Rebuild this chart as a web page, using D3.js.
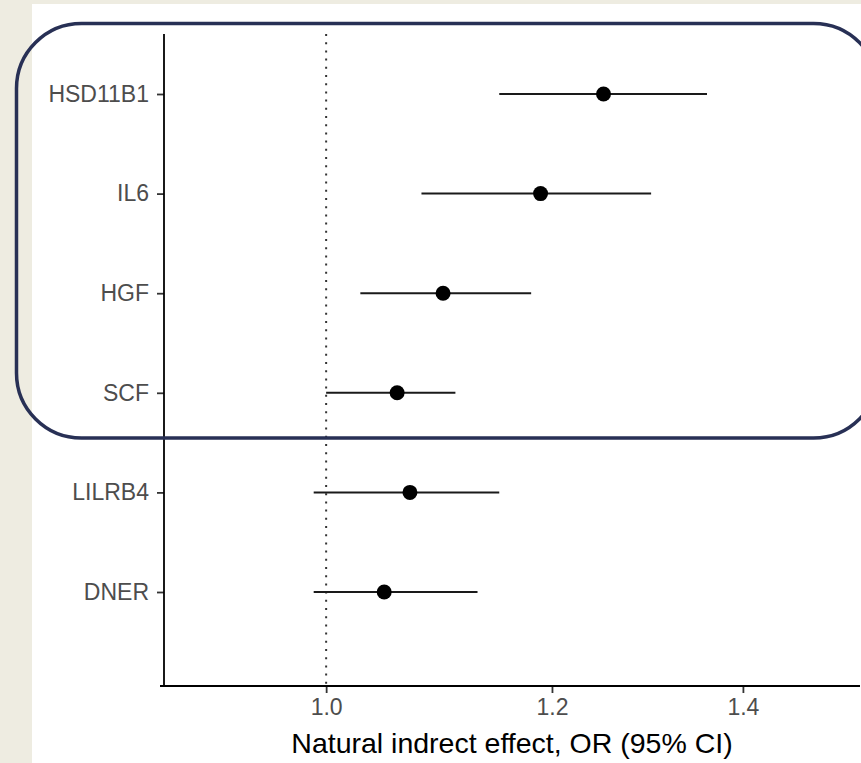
<!DOCTYPE html>
<html>
<head>
<meta charset="utf-8">
<script src="https://cdn.jsdelivr.net/npm/d3@7"></script>
<style>
  body { margin: 0; background: #eeece1; }
  svg { display: block; font-family: "Liberation Sans", Arial, sans-serif; }
</style>
</head>
<body>
<svg id="chart"></svg>
<script>
// Data
const markers = ["HSD11B1", "IL6", "HGF", "SCF", "LILRB4", "DNER"];
const estimates = [1.251, 1.189, 1.099, 1.059, 1.070, 1.048];
const lowerCI = [1.150, 1.080, 1.028, 1.000, 0.990, 0.990];
const upperCI = [1.360, 1.300, 1.180, 1.110, 1.150, 1.130];
const xTicks = [1.0, 1.2, 1.4];
const xLimits = [0.9, 1.5];
const refValue = 1.0;
const xTitle = "Natural indrect effect, OR (95% CI)";

const rows = markers.map((m, i) => ({ name: m, est: estimates[i], lo: lowerCI[i], hi: upperCI[i] }));

// Page and panel sizes
const svgWidth = 861;
const svgHeight = 763;
const panel = { left: 164, right: 860, top: 34, bottom: 686 };

const svg = d3.select("#chart")
    .attr("width", svgWidth)
    .attr("height", svgHeight);

// White slide area
svg.append("rect")
    .attr("x", 32).attr("y", 4)
    .attr("width", svgWidth - 32).attr("height", svgHeight - 4)
    .attr("fill", "#ffffff");

// Log scale with 5% expansion like ggplot
const lnLo = Math.log(xLimits[0]), lnHi = Math.log(xLimits[1]);
const pad = (lnHi - lnLo) * 0.05;
const xScale = d3.scaleLog()
    .domain([Math.exp(lnLo - pad), Math.exp(lnHi + pad)])
    .range([panel.left, panel.right]);

const yScale = d3.scalePoint()
    .domain(markers)
    .range([94, 592]);

// Reference line at OR = 1
svg.append("line")
    .attr("x1", xScale(refValue)).attr("x2", xScale(refValue))
    .attr("y1", panel.top).attr("y2", panel.bottom)
    .attr("stroke", "#333")
    .attr("stroke-width", 2)
    .attr("stroke-dasharray", "2 6.2");

// Axes
const xAxis = d3.axisBottom(xScale)
    .tickValues(xTicks)
    .tickFormat(d3.format(".1f"))
    .tickSize(7)
    .tickPadding(6)
    .tickSizeOuter(0);

const yAxis = d3.axisLeft(yScale)
    .tickSize(7)
    .tickPadding(8);

const gx = svg.append("g")
    .attr("transform", `translate(0, ${panel.bottom})`)
    .call(xAxis);

const gy = svg.append("g")
    .attr("transform", `translate(${panel.left}, 0)`)
    .call(yAxis);

gy.select(".domain").remove();
gx.select(".domain").remove();

[gx, gy].forEach(g => {
    g.selectAll(".tick line").attr("stroke", "#333").attr("stroke-width", 1.8);
    g.selectAll(".tick text")
        .attr("fill", "#4d4d4d")
        .attr("font-size", "23px")
        .attr("font-family", "Liberation Sans, Arial, sans-serif");
});

// Axis lines
svg.append("line")
    .attr("x1", panel.left).attr("x2", panel.left)
    .attr("y1", panel.top).attr("y2", panel.bottom)
    .attr("stroke", "#000").attr("stroke-width", 1.8);
svg.append("line")
    .attr("x1", panel.left - 4).attr("x2", panel.right)
    .attr("y1", panel.bottom).attr("y2", panel.bottom)
    .attr("stroke", "#000").attr("stroke-width", 1.8);

// Confidence intervals
svg.selectAll(".ci")
    .data(rows)
    .enter()
    .append("line")
    .attr("class", "ci")
    .attr("x1", d => xScale(d.lo))
    .attr("x2", d => xScale(d.hi))
    .attr("y1", d => yScale(d.name))
    .attr("y2", d => yScale(d.name))
    .attr("stroke", "#1a1a1a")
    .attr("stroke-width", 2);

// Point estimates
svg.selectAll(".pt")
    .data(rows)
    .enter()
    .append("circle")
    .attr("class", "pt")
    .attr("cx", d => xScale(d.est))
    .attr("cy", d => yScale(d.name))
    .attr("r", 7.5)
    .attr("fill", "#000");

// Axis title
svg.append("text")
    .attr("x", (panel.left + panel.right) / 2)
    .attr("y", 753)
    .attr("text-anchor", "middle")
    .attr("font-size", "28.5px")
    .attr("fill", "#000")
    .text(xTitle);

// Rounded highlight frame around the top four markers
svg.append("rect")
    .attr("x", 16.5).attr("y", 23.5)
    .attr("width", 862).attr("height", 414.5)
    .attr("rx", 65).attr("ry", 65)
    .attr("fill", "none")
    .attr("stroke", "#283055")
    .attr("stroke-width", 3.5);
</script>
</body>
</html>
